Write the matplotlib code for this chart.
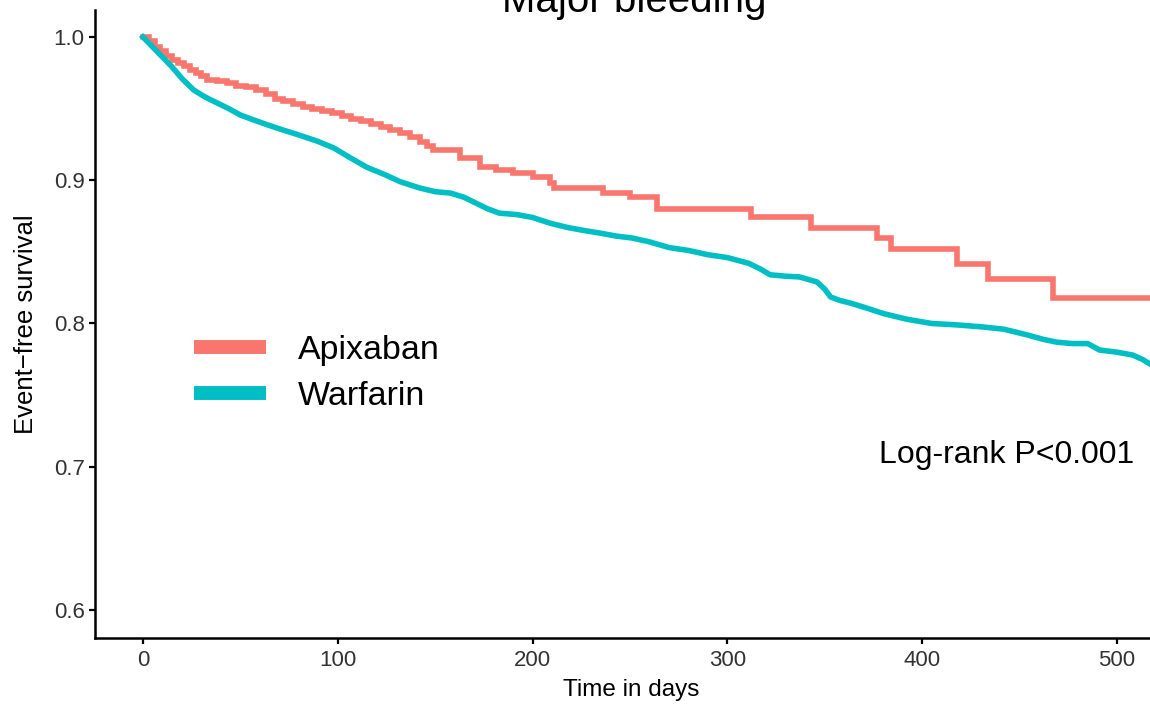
import matplotlib
matplotlib.use("Agg")
import matplotlib.pyplot as plt
from matplotlib.lines import Line2D

# ---- data ----
groups = ["Apixaban", "Warfarin"]
colors = ["#F8766D", "#00BFC4"]

apix_days = [0, 3, 6, 9, 12, 15, 18, 21, 24, 27, 30, 33, 38, 43, 48, 53, 58, 63, 68,
             72, 77, 82, 87, 92, 97, 102, 107, 112, 117, 122, 127, 132, 137, 142, 146,
             149, 163, 173, 181, 190, 200, 209, 211, 236, 250, 264, 312, 343, 377,
             384, 418, 434, 467, 522]
apix_surv = [1.0, 0.997, 0.993, 0.990, 0.987, 0.984, 0.982, 0.980, 0.977, 0.975,
             0.973, 0.970, 0.969, 0.968, 0.966, 0.965, 0.963, 0.960, 0.957, 0.955,
             0.953, 0.951, 0.950, 0.948, 0.947, 0.945, 0.943, 0.941, 0.939, 0.937,
             0.935, 0.933, 0.930, 0.927, 0.924, 0.921, 0.9155, 0.909, 0.907, 0.905,
             0.902, 0.898, 0.8946, 0.891, 0.888, 0.880, 0.8744, 0.867, 0.860, 0.852,
             0.8415, 0.831, 0.818, 0.818]

warf_days = [0, 5, 10, 15, 20, 26, 32, 38, 44, 50, 57, 64, 72, 80, 90, 98, 106, 115,
             124, 132, 142, 150, 158, 165, 171, 177, 183, 192, 200, 209, 218, 226, 235,
             243, 251, 260, 270, 280, 290, 300, 311, 317, 322, 330, 337, 346, 350, 353,
             358, 363, 371, 380, 392, 405, 418, 431, 442, 454, 462, 469, 477, 485, 491,
             500, 508, 513, 519]
warf_surv = [1.0, 0.993, 0.986, 0.979, 0.971, 0.963, 0.958, 0.954, 0.950, 0.9455,
             0.942, 0.9386, 0.935, 0.9316, 0.927, 0.9225, 0.916, 0.909, 0.904, 0.899,
             0.8946, 0.892, 0.891, 0.888, 0.884, 0.880, 0.877, 0.876, 0.874, 0.870,
             0.867, 0.865, 0.863, 0.861, 0.8597, 0.857, 0.853, 0.851, 0.848, 0.846,
             0.842, 0.838, 0.834, 0.833, 0.8325, 0.829, 0.824, 0.8185, 0.816, 0.8143,
             0.811, 0.807, 0.803, 0.800, 0.799, 0.7976, 0.796, 0.792, 0.789, 0.787,
             0.786, 0.786, 0.7815, 0.780, 0.778, 0.775, 0.770]

x_ticks = [0, 100, 200, 300, 400, 500]
y_ticks = [0.6, 0.7, 0.8, 0.9, 1.0]
title = "Major bleeding"
x_label = "Time in days"
y_label = "Event\u2212free survival"
annotation = "Log-rank P<0.001"

# ---- figure ----
plt.rcParams["font.family"] = ["Liberation Sans", "DejaVu Sans"]
W, H = 1150, 707
fig = plt.figure(figsize=(W / 100, H / 100), dpi=100)
ax = fig.add_axes([95 / W, 69 / H, (1168 - 95) / W, (638 - 10) / H])

ax.plot(apix_days, apix_surv, drawstyle="steps-post", color=colors[0], lw=4.0,
        solid_joinstyle="miter", zorder=3)
ax.plot(warf_days, warf_surv, color=colors[1], lw=4.0, zorder=3)

ax.set_xlim(-24.6, 526.2)
ax.set_ylim(0.5805, 1.0188)
ax.set_xticks(x_ticks)
ax.set_yticks(y_ticks)
ax.set_xticklabels([str(v) for v in x_ticks])
ax.set_yticklabels([f"{v:.1f}" for v in y_ticks])

for s in ["top", "right"]:
    ax.spines[s].set_visible(False)
for s in ["left", "bottom"]:
    ax.spines[s].set_linewidth(1.8)
    ax.spines[s].set_color("black")
ax.tick_params(axis="both", length=4.5, width=1.6, color="black",
               labelsize=16, labelcolor="#333333")
ax.tick_params(axis="x", pad=4)
ax.tick_params(axis="y", pad=3)

ax.set_xlabel(x_label, fontsize=17.5)
ax.set_ylabel(y_label, fontsize=18.5)
ax.xaxis.set_label_coords((631 - 95) / 1073, (638 - 679) / 628)
ax.yaxis.set_label_coords((38 - 95) / 1073, 0.5)

handles = [Line2D([], [], color=c, lw=10, solid_capstyle="butt") for c in colors]
leg = ax.legend(handles, groups, loc="upper left", frameon=False, fontsize=24.5,
                handlelength=2.12, handletextpad=0.94, labelspacing=0.44,
                bbox_to_anchor=(194 / W, (707 - 335) / H),
                bbox_transform=fig.transFigure, borderpad=0, borderaxespad=0)

ax.text(378, 0.7025, annotation, fontsize=23, va="baseline", ha="left")

fig.text(634 / W, (707 - 12) / H, title, fontsize=29, ha="center", va="baseline")

fig.savefig("out.png", dpi=100)
